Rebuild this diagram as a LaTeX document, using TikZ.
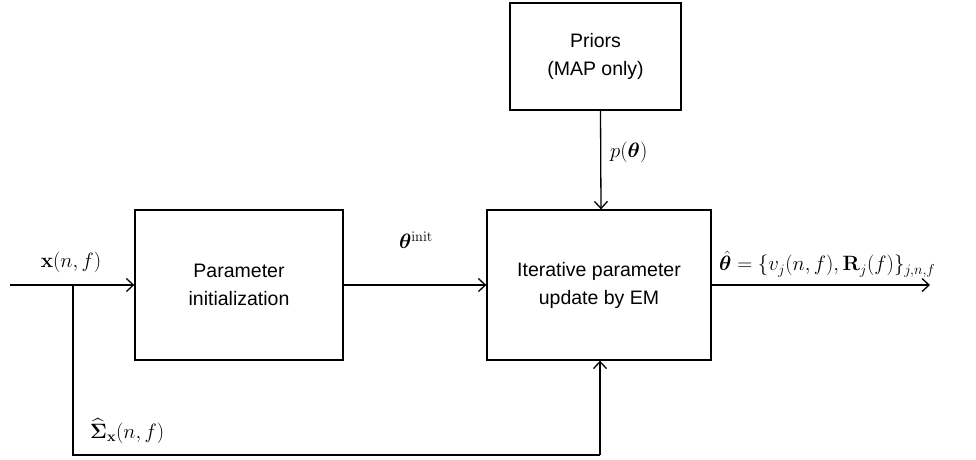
\documentclass[tikz,border=0pt]{standalone}
\usepackage{amsmath}
\usepackage{bm}
\usepackage[no-math]{fontspec}
\setmainfont{Liberation Sans}
\usetikzlibrary{arrows.meta}
\begin{document}
\begin{tikzpicture}[x=1pt,y=-1pt,
  blk/.style={draw, line width=1.3pt, rectangle, align=center, inner sep=0pt, font=\fontsize{19.5}{28}\selectfont},
  conn/.style={line width=1.3pt},
  arr/.style={conn, -{Straight Barb[length=7pt,width=13pt,line width=1.3pt]}},
  lbl/.style={font=\fontsize{19.5}{24}\selectfont, inner sep=0pt}]
\useasboundingbox (0,0) rectangle (976,459);
\node[blk, minimum width=171pt, minimum height=107pt] (priors) at (595.5,56.5) {Priors\\(MAP only)};
\node[blk, minimum width=224pt, minimum height=150pt] (iter) at (599,285) {Iterative parameter\\update by EM};
\node[blk, minimum width=208pt, minimum height=150pt] (init) at (239,285) {Parameter\\initialization};
\coordinate (in) at (10,285);
\coordinate (br) at (73,285);
\coordinate (bl) at (73,455);
\coordinate (bu) at (600,455);
\coordinate (out) at (930,285);
\draw[arr] (in) -- (init.west);
\draw[arr] (init.east) -- (iter.west);
\draw[arr] (iter.east) -- (out);
\draw[arr] ([xshift=5pt]priors.south) -- ([xshift=2pt]iter.north);
\draw[conn] (br) -- (bl) -- (bu);
\draw[arr] (bu) -- ([xshift=1pt]iter.south);
\node[lbl] (lx) at (71,262) {$\mathbf{x}(n,f)$};
\node[lbl] (lt) at (416,240) {$\bm{\theta}^{\mathrm{init}}$};
\node[lbl, anchor=west] (lo) at (719,264) {$\hat{\bm{\theta}}=\{v_j(n,f),\mathbf{R}_j(f)\}_{j,n,f}$};
\node[lbl, anchor=west] (lp) at (610,152) {$p(\bm{\theta})$};
\node[lbl, anchor=west] (ls) at (90,431) {$\widehat{\mathbf{\Sigma}}_{\mathbf{x}}(n,f)$};
\end{tikzpicture}
\end{document}
